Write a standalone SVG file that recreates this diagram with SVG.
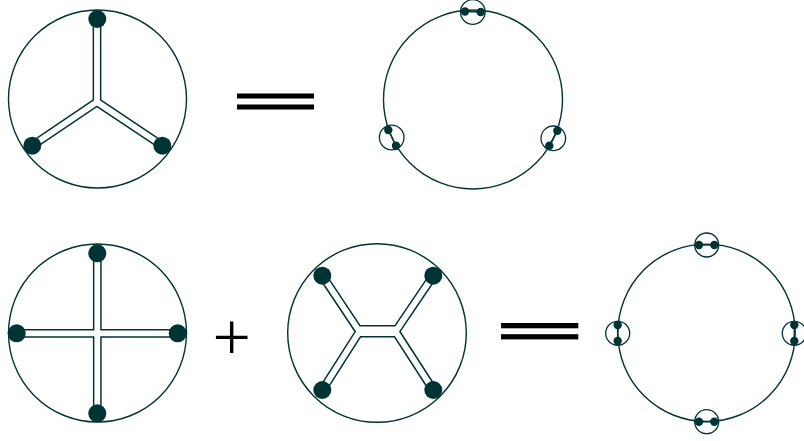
<svg xmlns="http://www.w3.org/2000/svg" width="804" height="441" viewBox="0 0 804 441">
<style>
.big{fill:none;stroke:#003333;stroke-width:1.4}
.sm{fill:none;stroke:#003333;stroke-width:1.3}
.dk{fill:none;stroke:#003333;stroke-width:8.8;stroke-linejoin:miter;stroke-linecap:butt}
.wt{fill:none;stroke:#ffffff;stroke-width:5.8;stroke-linejoin:miter;stroke-linecap:butt}
.dkb{fill:none;stroke:#003333;stroke-width:12.4;stroke-linecap:butt}
.wtb{fill:none;stroke:#ffffff;stroke-width:9.6;stroke-linecap:butt}
.dot{fill:#003333}
.ln{stroke:#003333;stroke-width:1.4}
.eq{fill:#000000}
.op{font-family:"Liberation Serif","Times New Roman",serif;font-size:68px;fill:#000000;text-anchor:middle}
</style>
<rect width="804" height="441" fill="#ffffff"/>
<g id="diagram-y">
<circle class="big" cx="97.5" cy="99" r="89"/>
<g id="connectors-y">
<path class="dk" d="M97 19 L97 102 L32.3 145.7 M97 102 L162.3 145.7"/>
<path class="wt" d="M97 19 L97 102 L32.3 145.7 M97 102 L162.3 145.7"/>
</g>
<circle class="dot" cx="97.3" cy="19" r="9"/>
<circle class="dot" cx="32.3" cy="145.7" r="9"/>
<circle class="dot" cx="162.3" cy="145.7" r="9"/>
</g>
<g id="eq1"><rect class="eq" x="237" y="93.5" width="77" height="5"/><rect class="eq" x="237" y="104.5" width="77" height="5"/></g>
<g id="ring3">
<circle class="big" cx="473" cy="99.5" r="89.5"/>
<g id="pair-top"><circle class="sm" cx="472.8" cy="12" r="12.3"/><line class="ln" x1="465" y1="11.5" x2="480.7" y2="12"/><circle class="dot" cx="465" cy="11.5" r="4.2"/><circle class="dot" cx="480.7" cy="12" r="4.2"/></g>
<g id="pair-left"><circle class="sm" cx="391.7" cy="137.5" r="12.3"/><line class="ln" x1="388.3" y1="130" x2="396" y2="145.7"/><circle class="dot" cx="388.3" cy="130" r="4.2"/><circle class="dot" cx="396" cy="145.7" r="4.2"/></g>
<g id="pair-right"><circle class="sm" cx="553.3" cy="138.3" r="12.3"/><line class="ln" x1="557.3" y1="130.7" x2="549.3" y2="145.7"/><circle class="dot" cx="557.3" cy="130.7" r="4.2"/><circle class="dot" cx="549.3" cy="145.7" r="4.2"/></g>
</g>
<g id="diagram-cross">
<circle class="big" cx="97.5" cy="333" r="89"/>
<g id="connectors-cross">
<path class="dk" d="M97.3 253.3 L97.3 413.3 M16.7 333.3 L177.7 333.3"/>
<path class="wt" d="M97.3 253.3 L97.3 413.3 M16.7 333.3 L177.7 333.3"/>
</g>
<circle class="dot" cx="97.3" cy="253.3" r="9"/>
<circle class="dot" cx="97.3" cy="413.3" r="9"/>
<circle class="dot" cx="16.7" cy="333.3" r="9"/>
<circle class="dot" cx="177.7" cy="333.3" r="9"/>
</g>
<text class="op" x="231.7" y="360">+</text>
<g id="diagram-h">
<circle class="big" cx="377" cy="333" r="89.3"/>
<g id="connectors-h">
<path class="dk" d="M322.3 275.7 L359.5 331.5 L322.3 390 M433.3 275.7 L395.5 331.5 L433.3 390"/>
<path class="dkb" d="M359.5 331.2 L395.5 331.2"/>
<path class="wt" d="M322.3 275.7 L359.5 331.5 L322.3 390 M433.3 275.7 L395.5 331.5 L433.3 390"/>
<path class="wtb" d="M359.5 331.2 L395.5 331.2"/>
</g>
<circle class="dot" cx="322.3" cy="275.7" r="9"/>
<circle class="dot" cx="433.3" cy="275.7" r="9"/>
<circle class="dot" cx="322.3" cy="390" r="9"/>
<circle class="dot" cx="433.3" cy="390" r="9"/>
</g>
<g id="eq2"><rect class="eq" x="501" y="323" width="77.3" height="5.3"/><rect class="eq" x="501" y="334.2" width="77.3" height="5.2"/></g>
<g id="ring4">
<circle class="big" cx="706.5" cy="332.8" r="88.7"/>
<g id="pair4-top"><circle class="sm" cx="706.7" cy="245" r="12"/><line class="ln" x1="699" y1="245" x2="714.3" y2="245"/><circle class="dot" cx="699" cy="245" r="4.2"/><circle class="dot" cx="714.3" cy="245" r="4.2"/></g>
<g id="pair4-bottom"><circle class="sm" cx="706.7" cy="421.7" r="12"/><line class="ln" x1="699" y1="421.7" x2="714.3" y2="421.7"/><circle class="dot" cx="699" cy="421.7" r="4.2"/><circle class="dot" cx="714.3" cy="421.7" r="4.2"/></g>
<g id="pair4-left"><circle class="sm" cx="617.7" cy="333.3" r="12"/><line class="ln" x1="617.7" y1="325" x2="617.7" y2="341"/><circle class="dot" cx="617.7" cy="325" r="4.2"/><circle class="dot" cx="617.7" cy="341" r="4.2"/></g>
<g id="pair4-right"><circle class="sm" cx="794.3" cy="333.3" r="12"/><line class="ln" x1="794.3" y1="325" x2="794.3" y2="341"/><circle class="dot" cx="794.3" cy="325" r="4.2"/><circle class="dot" cx="794.3" cy="341" r="4.2"/></g>
</g>
</svg>
